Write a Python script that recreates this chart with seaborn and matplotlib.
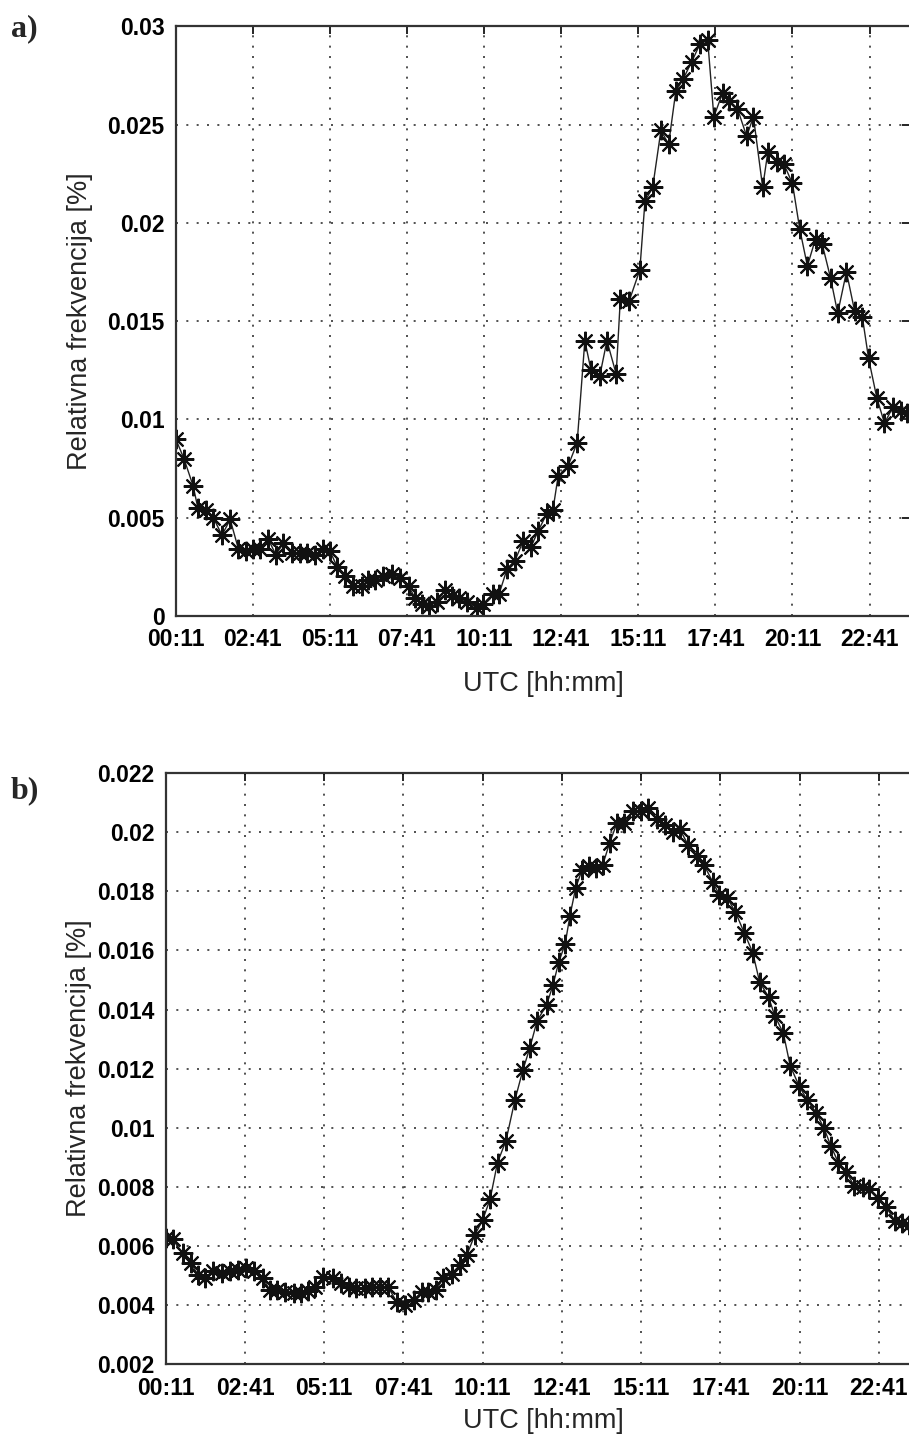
import numpy as np
import pandas as pd
import seaborn as sns
import matplotlib
matplotlib.use("Agg")
import matplotlib.pyplot as plt

# minutes after midnight (UTC) and relative frequency, panel a
t_a = [11, 27, 45, 54, 70, 84, 101, 117, 133, 148, 161, 175, 191, 206, 220, 237,
       253, 267, 282, 298, 311, 325, 340, 356, 373, 385, 398, 414, 431, 447, 464,
       477, 490, 504, 519, 535, 549, 563, 578, 597, 609, 628, 640, 656, 671, 687,
       702, 716, 733, 745, 755, 774, 792, 807, 819, 836, 850, 868, 876, 893, 914,
       924, 939, 955, 970, 984, 998, 1015, 1031, 1046, 1058, 1075, 1087, 1104,
       1122, 1135, 1153, 1163, 1180, 1194, 1211, 1225, 1240, 1256, 1269, 1285,
       1299, 1316, 1332, 1347, 1359, 1375, 1390, 1406, 1423, 1433]
f_a = [0.0090, 0.0080, 0.0066, 0.0055, 0.0054, 0.0050, 0.0041, 0.0049, 0.0034,
       0.0033, 0.0034, 0.0034, 0.0039, 0.0031, 0.0037, 0.0032, 0.0032, 0.0032,
       0.0031, 0.0034, 0.0033, 0.0025, 0.0020, 0.0015, 0.0015, 0.0018, 0.0018,
       0.0020, 0.0021, 0.0019, 0.0015, 0.0009, 0.0006, 0.0005, 0.0007, 0.0013,
       0.0010, 0.0009, 0.0007, 0.0004, 0.0006, 0.0011, 0.0011, 0.0024, 0.0028,
       0.0038, 0.0035, 0.0043, 0.0052, 0.0054, 0.0071, 0.0076, 0.0088, 0.0140,
       0.0125, 0.0122, 0.0140, 0.0123, 0.0161, 0.0160, 0.0176, 0.0211, 0.0218,
       0.0247, 0.0240, 0.0267, 0.0273, 0.0282, 0.0291, 0.0293, 0.0254, 0.0266,
       0.0262, 0.0258, 0.0244, 0.0254, 0.0218, 0.0236, 0.0231, 0.0230, 0.0220,
       0.0197, 0.0178, 0.0192, 0.0189, 0.0172, 0.0154, 0.0175, 0.0155, 0.0152,
       0.0131, 0.0111, 0.0098, 0.0106, 0.0104, 0.0103]

# panel b
t_b = [11, 24, 43, 58, 73, 85, 101, 117, 133, 148, 163, 178, 195, 208, 222, 237,
       253, 268, 281, 294, 309, 327, 342, 357, 372, 388, 401, 417, 432, 448, 464,
       480, 496, 508, 523, 536, 552, 568, 581, 596, 611, 625, 639, 655, 672, 687,
       700, 714, 732, 744, 755, 767, 776, 787, 799, 812, 825, 838, 851, 865, 878,
       895, 910, 924, 941, 956, 972, 984, 1000, 1016, 1030, 1046, 1059, 1074,
       1089, 1106, 1122, 1135, 1152, 1164, 1180, 1193, 1210, 1225, 1242, 1257,
       1270, 1284, 1299, 1314, 1330, 1343, 1360, 1374, 1391, 1404, 1417]
f_b = [0.00625, 0.00622, 0.00575, 0.00541, 0.00501, 0.00490, 0.00516, 0.00507,
       0.00516, 0.00518, 0.00524, 0.00516, 0.00490, 0.00451, 0.00451, 0.00445,
       0.00439, 0.00439, 0.00447, 0.00462, 0.00494, 0.00490, 0.00473, 0.00462,
       0.00456, 0.00456, 0.00462, 0.00460, 0.00460, 0.00411, 0.00400, 0.00417,
       0.00445, 0.00445, 0.00451, 0.00490, 0.00505, 0.00535, 0.00569, 0.00637,
       0.00688, 0.00758, 0.00882, 0.00956, 0.01094, 0.01195, 0.01269, 0.01362,
       0.01416, 0.01483, 0.01561, 0.01622, 0.01717, 0.01812, 0.01873, 0.01886,
       0.01879, 0.01889, 0.01963, 0.02031, 0.02033, 0.02073, 0.02073, 0.02081,
       0.02044, 0.02025, 0.02002, 0.02010, 0.01957, 0.01920, 0.01889, 0.01833,
       0.01788, 0.01777, 0.01731, 0.01660, 0.01593, 0.01494, 0.01442, 0.01378,
       0.01320, 0.01209, 0.01141, 0.01094, 0.01051, 0.00998, 0.00938, 0.00882,
       0.00851, 0.00803, 0.00800, 0.00792, 0.00761, 0.00733, 0.00685, 0.00676,
       0.00671]

x_ticks = [11, 161, 311, 461, 611, 761, 911, 1061, 1211, 1361]
x_labels = ["00:11", "02:41", "05:11", "07:41", "10:11", "12:41", "15:11",
            "17:41", "20:11", "22:41"]
ya_ticks = [0, 0.005, 0.01, 0.015, 0.02, 0.025, 0.03]
ya_labels = ["0", "0.005", "0.01", "0.015", "0.02", "0.025", "0.03"]
yb_ticks = [0.002, 0.004, 0.006, 0.008, 0.01, 0.012, 0.014, 0.016, 0.018, 0.02, 0.022]
yb_labels = ["0.002", "0.004", "0.006", "0.008", "0.01", "0.012", "0.014",
             "0.016", "0.018", "0.02", "0.022"]

sns.set_style("white")
plt.rcParams['font.family'] = ['Liberation Sans', 'DejaVu Sans']

fig = plt.figure(figsize=(9.09, 14.37), dpi=100)
ax_a = fig.add_axes([0.1933, 0.5715, 0.808, 0.4102])
ax_b = fig.add_axes([0.1823, 0.0508, 0.8306, 0.4111])

panels = [(ax_a, t_a, f_a, ya_ticks, ya_labels, (0, 0.03), "a)", 0.980, 14, 10),
          (ax_b, t_b, f_b, yb_ticks, yb_labels, (0.002, 0.022), "b)", 0.450, 6, 4)]

for ax, t, f, yt, yl, ylim, tag, tag_y, xpad, ypad in panels:
    df = pd.DataFrame({"t": t, "f": f})
    sns.lineplot(data=df, x="t", y="f", ax=ax, estimator=None, sort=False,
                 color="#222222", linewidth=1.0, marker=(8, 2, 0),
                 markersize=14, markeredgewidth=1.5, markeredgecolor="#111111")
    ax.set_xlim(11, 1440)
    ax.set_ylim(*ylim)
    ax.set_xticks(x_ticks)
    ax.set_xticklabels(x_labels, fontsize=16.5, fontweight="bold")
    ax.set_yticks(yt)
    ax.set_yticklabels(yl, fontsize=16.5, fontweight="bold")
    ax.grid(True, color="#333333", linestyle=(0, (1.2, 5)), linewidth=1.2)
    ax.tick_params(direction="in", length=6, width=1.2, top=True, right=True,
                   colors="black")
    ax.tick_params(axis="x", pad=9)
    ax.tick_params(axis="y", pad=8)
    for s in ax.spines.values():
        s.set_visible(True)
        s.set_color("#333333")
        s.set_linewidth(1.6)
    ax.set_xlabel("UTC [hh:mm]", fontsize=19.5, labelpad=xpad)
    ax.set_ylabel("Relativna frekvencija [%]", fontsize=19.5, labelpad=ypad)
    fig.text(0.012, tag_y, tag, fontsize=23, fontweight="bold",
             family=["Liberation Serif", "DejaVu Serif"], va="center")

fig.savefig("out.png", dpi=100)
